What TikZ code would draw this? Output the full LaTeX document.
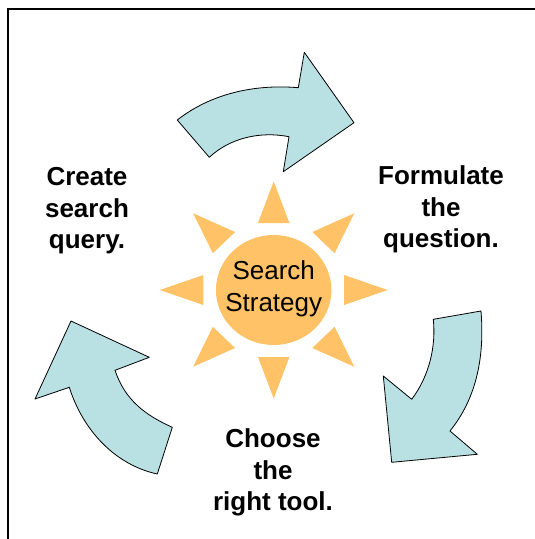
\documentclass[tikz,border=0pt]{standalone}
\usepackage{fontspec}
\setmainfont{Liberation Sans}
\usepackage{tkz-euclide}
\usepackage{tikz}
\definecolor{sunfill}{RGB}{255,194,102}
\definecolor{turnfill}{RGB}{185,224,227}
\tikzset{turn/.style={draw=black,fill=turnfill,line width=0.8pt,line join=round},
  phase/.style={font=\fontsize{26}{31.5}\selectfont\bfseries,align=center,inner sep=0pt}}

\begin{document}
\begin{tikzpicture}[x=1pt,y=-1pt]
    \useasboundingbox (0,0) rectangle (535,539);
    \draw[line width=2pt] (7.8,539) |- (535,9);
    % sun
    \begin{scope}[shift={(273.7,290)},xscale=1.05]
      \fill[sunfill] (0,0) circle (55);
      \foreach \a in {0,45,...,315}
        \fill[sunfill,rotate=\a] (108.5,0) -- (67,15) -- (67,-15) -- cycle;
    \end{scope}
    \node[font=\fontsize{26}{31.5}\selectfont,align=center,inner sep=0pt] (S) at (273.7,288.8) {Search\\Strategy};
    % top arrow
    \tkzDefPoint(177.3,120){A}
    \tkzDefPoint(298.3,87.7){B}
    \tkzDefPoint(304.3,52.3){C}
    \tkzDefPoint(354,122.7){D}
    \tkzDefPoint(283.3,171.7){E}
    \tkzDefPoint(289,136.7){F}
    \tkzDefPoint(209.3,157.3){G}
    \draw[turn] (A) .. controls (211.3,93.3) and (255.3,84) .. (B) -- (C) -- (D) -- (E) -- (F)
      .. controls (260,131) and (230,138) .. (G) -- cycle;
    % right arrow
    \tkzDefPoint(481,311){H}
    \tkzDefPoint(450,431){I}
    \tkzDefPoint(477.3,454.3){J}
    \tkzDefPoint(391.7,462.3){K}
    \tkzDefPoint(383.3,376){L}
    \tkzDefPoint(411.7,399.3){M}
    \tkzDefPoint(433.3,319.3){N}
    \draw[turn] (H) .. controls (485,360) and (475,400) .. (I) -- (J) -- (K) -- (L) -- (M)
      .. controls (430,375) and (436,345) .. (N) -- cycle;
    % left arrow
    \tkzDefPoint(71,321){O}
    \tkzDefPoint(149.3,357.3){P}
    \tkzDefPoint(115,370.3){Q}
    \tkzDefPoint(172.3,427.3){R}
    \tkzDefPoint(157.3,474){T}
    \tkzDefPoint(69.3,387.3){U}
    \tkzDefPoint(35,399){V}
    \draw[turn] (O) -- (P) -- (Q) .. controls (125,400) and (145,415) .. (R) -- (T)
      .. controls (114.2,464.6) and (82.6,429.4) .. (U) -- (V) -- cycle;
    % steps
    \node[phase] (create) at (87,211) {Create\\search\\query.};
    \node[phase] (formulate) at (441,209.4) {Formulate\\the\\question.};
    \node[phase] (choose) at (273,472.8) {Choose\\the\\right tool.};
\end{tikzpicture}
\end{document}
